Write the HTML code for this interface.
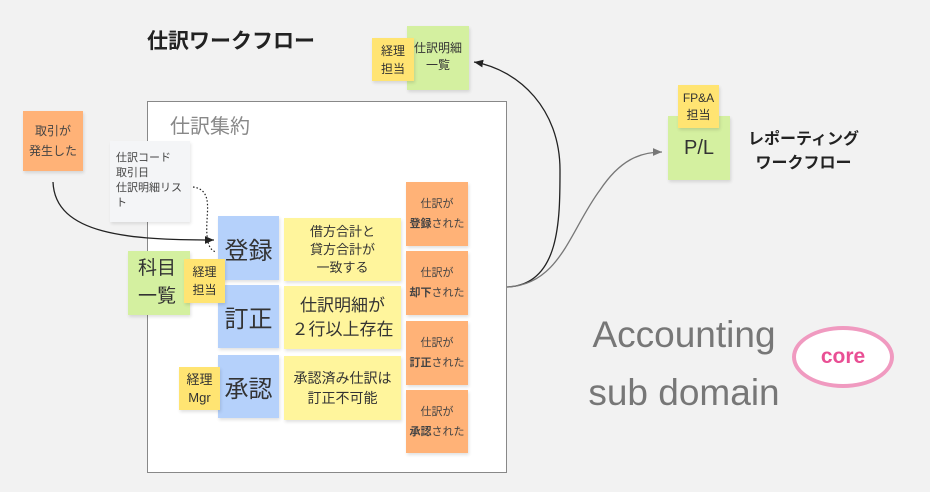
<!DOCTYPE html>
<html><head><meta charset="utf-8"><style>
*{margin:0;padding:0;box-sizing:border-box}
body{width:930px;height:492px;background:#f2f2f2;position:relative;overflow:hidden;font-family:"Liberation Sans","Noto Sans CJK JP",sans-serif;color:#333}
.a{position:absolute}
.n{position:absolute;display:flex;align-items:center;justify-content:center;text-align:center;box-shadow:1px 2px 3px rgba(0,0,0,.12)}
.o{background:#ffb277;font-size:11px;line-height:20px;color:#444}
.y{background:#fff59c}
.ys{background:#ffe472}
.g{background:#d4f0a0}
.b{background:#b5d1fb;font-size:24px}
</style></head><body>
<div class="a" style="left:147px;top:25px;font-size:21px;font-weight:bold;color:#222">仕訳ワークフロー</div>
<div class="a" style="left:147px;top:101px;width:360px;height:372px;background:#fff;border:1.5px solid #888"></div>
<div class="a" style="left:170px;top:110px;font-size:20px;color:#888">仕訳集約</div>

<div class="n o" style="left:23px;top:111px;width:60px;height:60px;font-size:12px"><div>取引が<br>発生した</div></div>
<div class="a" style="left:110px;top:141px;width:80px;height:81px;background:#f4f5f7;box-shadow:1px 2px 3px rgba(0,0,0,.1);font-size:11px;line-height:15px;padding:10px 0 0 6px;color:#444">仕訳コード<br>取引日<br>仕訳明細リス<br>ト</div>

<div class="n b" style="left:218px;top:216px;width:61px;height:64px"><div>登録</div></div>
<div class="n b" style="left:218px;top:285px;width:61px;height:63px"><div>訂正</div></div>
<div class="n b" style="left:218px;top:355px;width:61px;height:63px"><div>承認</div></div>

<div class="n y" style="left:284px;top:218px;width:117px;height:63px;font-size:13px;line-height:18px"><div>借方合計と<br>貸方合計が<br>一致する</div></div>
<div class="n y" style="left:284px;top:286px;width:117px;height:63px;font-size:17px;line-height:24px"><div>仕訳明細が<br>２行以上存在</div></div>
<div class="n y" style="left:284px;top:356px;width:117px;height:64px;font-size:14px;line-height:20px"><div>承認済み仕訳は<br>訂正不可能</div></div>

<div class="n o" style="left:406px;top:182px;width:62px;height:64px"><div>仕訳が<br><b>登録</b>された</div></div>
<div class="n o" style="left:406px;top:251px;width:62px;height:64px"><div>仕訳が<br><b>却下</b>された</div></div>
<div class="n o" style="left:406px;top:321px;width:62px;height:64px"><div>仕訳が<br><b>訂正</b>された</div></div>
<div class="n o" style="left:406px;top:390px;width:62px;height:63px"><div>仕訳が<br><b>承認</b>された</div></div>

<div class="n g" style="left:128px;top:251px;width:62px;height:64px;font-size:19px;line-height:28px;justify-content:flex-start;padding-left:10px;text-align:left"><div>科目<br>一覧</div></div>
<div class="n ys" style="left:184px;top:259px;width:41px;height:44px;font-size:12px;line-height:18px"><div>経理<br>担当</div></div>
<div class="n ys" style="left:179px;top:367px;width:41px;height:43px;font-size:13px;line-height:18px"><div>経理<br>Mgr</div></div>

<div class="n g" style="left:407px;top:26px;width:62px;height:64px;font-size:12px;line-height:17px;align-items:flex-start;padding-top:14px"><div>仕訳明細<br>一覧</div></div>
<div class="n ys" style="left:372px;top:38px;width:42px;height:43px;font-size:12px;line-height:18px"><div>経理<br>担当</div></div>

<div class="n g" style="left:668px;top:116px;width:62px;height:64px;font-size:20px"><div>P/L</div></div>
<div class="n ys" style="left:678px;top:85px;width:41px;height:43px;font-size:12px;line-height:17px"><div>FP&amp;A<br>担当</div></div>
<div class="a" style="left:748px;top:128px;font-size:16px;font-weight:bold;line-height:24px;text-align:center;color:#222">レポーティング<br>ワークフロー</div>

<div class="a" style="left:578px;top:306px;font-size:37px;line-height:58px;color:#777;text-align:center;width:212px">Accounting<br>sub domain</div>
<div class="n" style="left:792px;top:326px;width:102px;height:62px;border:4px solid #f09ac0;border-radius:50%;background:#fff;color:#e94f94;font-weight:bold;font-size:21px;box-shadow:none"><div>core</div></div>

<svg class="a" style="left:0;top:0" width="930" height="492">
<defs><marker id="k" markerWidth="8" markerHeight="8" refX="7" refY="4" orient="auto"><path d="M0,1 L7,4 L0,7z" fill="#222"/></marker>
<marker id="gm" markerWidth="8" markerHeight="8" refX="7" refY="4" orient="auto"><path d="M0,1 L7,4 L0,7z" fill="#777"/></marker></defs>
<path d="M53,182 C55,235 130,240 214,240" fill="none" stroke="#222" stroke-width="1.3" marker-end="url(#k)"/>
<path d="M193,187 C215,190 205,215 207,235 C208,245 210,250 216,252" fill="none" stroke="#222" stroke-width="1.2" stroke-dasharray="1.5,2"/>
<path d="M507,287 C560,285 560,220 560,170 C560,110 520,70 474,62" fill="none" stroke="#222" stroke-width="1.3" marker-end="url(#k)"/>
<path d="M507,287 C560,285 570,230 600,190 C620,160 640,152 662,152" fill="none" stroke="#777" stroke-width="1.3" marker-end="url(#gm)"/>
</svg>
</body></html>
